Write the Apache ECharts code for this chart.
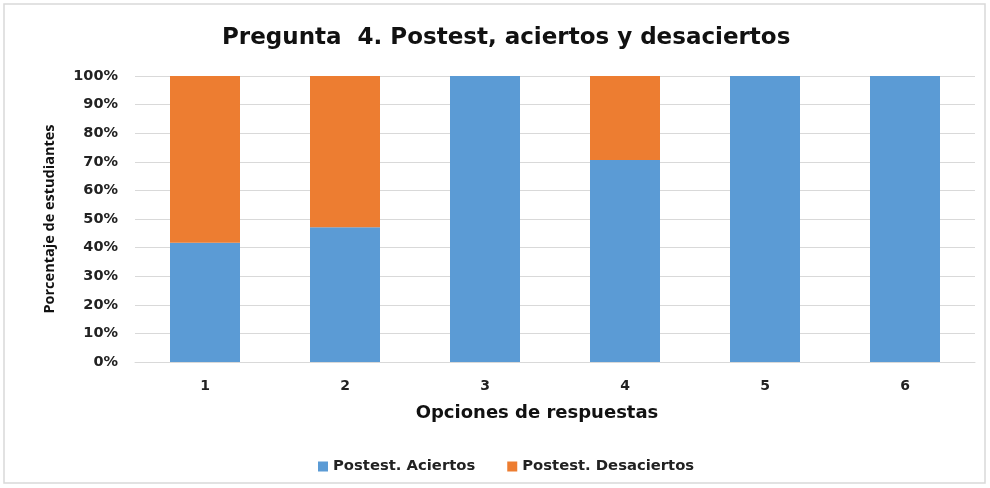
<!DOCTYPE html>
<html><head><meta charset="utf-8">
<script src="https://cdn.jsdelivr.net/npm/echarts@6/dist/echarts.min.js"></script>
<style>html,body{margin:0;padding:0;background:#fff}#c{width:990px;height:488px}</style>
</head><body><div id="c"></div>
<script>
const categories = ['1','2','3','4','5','6'];
const aciertos = [41.7, 47.1, 100, 70.6, 100, 100];
const desaciertos = [58.3, 52.9, 0, 29.4, 0, 0];
const FONT = '"DejaVu Sans", sans-serif';
const chart = echarts.init(document.getElementById('c'), null, {renderer:'canvas'});
chart.setOption({
  animation:false,
  backgroundColor:'#fff',
  graphic:[{type:'rect',shape:{x:4,y:4,width:981,height:479},style:{fill:'none',stroke:'#d9d9d9',lineWidth:1.5}}],
  title:{text:'Pregunta  4. Postest, aciertos y desaciertos',left:222,top:27,padding:0,
    textStyle:{fontFamily:FONT,fontWeight:'bold',fontSize:23,color:'#111'}},
  legend:{bottom:14,left:318,padding:0,itemWidth:10,itemHeight:10,itemGap:32,icon:'rect',
    textStyle:{fontFamily:FONT,fontWeight:'bold',fontSize:14.8,color:'#222'},
    data:['Postest. Aciertos','Postest. Desaciertos']},
  grid:{left:135,right:15,top:76,bottom:126},
  xAxis:{type:'category',data:categories,
    axisLine:{lineStyle:{color:'#d9d9d9'}},axisTick:{show:false},
    axisLabel:{fontFamily:FONT,fontWeight:'bold',fontSize:14,color:'#222',margin:17},
    name:'Opciones de respuestas',nameLocation:'middle',nameGap:42,
    nameTextStyle:{fontFamily:FONT,fontWeight:'bold',fontSize:18,color:'#111',padding:[0,36,0,0]}},
  yAxis:{type:'value',min:0,max:100,interval:10,
    axisLine:{show:false},axisTick:{show:false},
    splitLine:{lineStyle:{color:'#d9d9d9'}},
    axisLabel:{fontFamily:FONT,fontWeight:'bold',fontSize:14.5,color:'#222',margin:17,formatter:v=>v+'%'},
    name:'Porcentaje de estudiantes',nameLocation:'middle',nameGap:78,
    nameTextStyle:{fontFamily:'"Open Sans", sans-serif',fontWeight:'bold',fontSize:14.5,color:'#111'}},
  series:[
    {name:'Postest. Aciertos',type:'bar',stack:'a',barWidth:'50%',data:aciertos,itemStyle:{color:'#5b9bd5'}},
    {name:'Postest. Desaciertos',type:'bar',stack:'a',barWidth:'50%',data:desaciertos,itemStyle:{color:'#ed7d31'}}
  ]
});
</script></body></html>
